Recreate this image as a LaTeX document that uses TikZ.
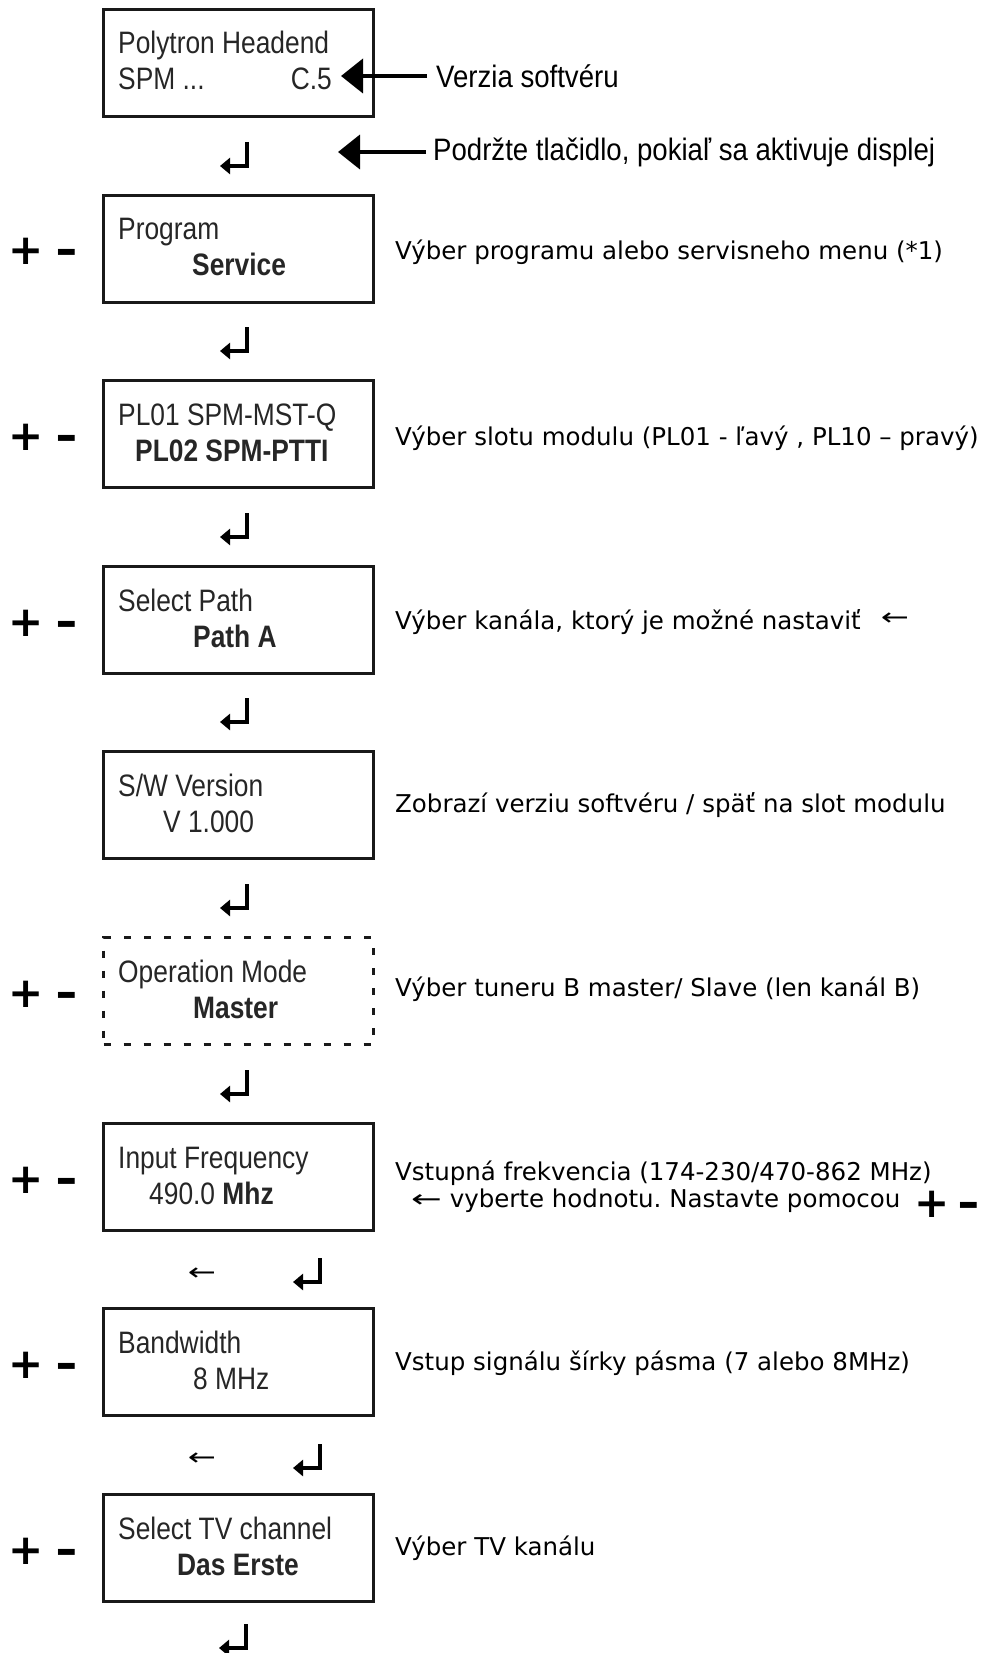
\documentclass[tikz,border=0pt]{standalone}
\usepackage{fontspec}
\setmainfont{DejaVu Sans}
\newfontfamily\lcd[FakeStretch=0.85]{Liberation Sans}
\newfontfamily\lcdanno[FakeStretch=0.89]{Liberation Sans}
\usetikzlibrary{arrows.meta}
\newcommand{\plusminus}[1][12pt]{+\hspace{#1}\scalebox{1.3}[1]{-}}
\frenchspacing
\tikzset{
  lcdbox/.style={draw=black!90, line width=3pt, minimum width=270pt, minimum height=107pt, inner sep=0pt, anchor=north west},
  dashbox/.style={lcdbox, dash pattern=on 7pt off 13pt},
  lcdtxt/.style={font=\lcd\fontsize{31}{36}\selectfont, text=black!85, inner sep=0pt, anchor=base west},
  lcdbold/.style={lcdtxt, font=\lcd\bfseries\fontsize{31}{36}\selectfont},
  desc/.style={font=\fontsize{24.5}{29}\selectfont, inner sep=0pt, anchor=west},
  pm/.style={font=\bfseries\fontsize{42}{48}\selectfont, inner sep=0pt, anchor=base west},
  anno/.style={font=\lcdanno\fontsize{31}{36}\selectfont, inner sep=0pt, anchor=west},
  bigarrow/.style={line width=4pt, -{Triangle[length=22pt,width=34pt]}},
  thinarr/.style={font=\fontsize{24}{29}\selectfont, inner sep=0pt, anchor=center},
  enterkey/.pic={\draw[line width=3.3pt, line join=miter, -{Triangle[length=10pt,width=16pt]}] (0,-24) -- (0,0) -- (-27,0);}
}
\begin{document}
\begin{tikzpicture}[x=1pt,y=-1pt]
\useasboundingbox (0,0) rectangle (983,1653);
% boxes
\node[lcdbox] (b1) at (102,8) {};
\node[lcdbox] (b2) at (102,194) {};
\node[lcdbox] (b3) at (102,379) {};
\node[lcdbox] (b4) at (102,565) {};
\node[lcdbox] (b5) at (102,750) {};
\node[dashbox] (b6) at (102,936) {};
\node[lcdbox] (b7) at (102,1122) {};
\node[lcdbox] (b8) at (102,1307) {};
\node[lcdbox] (b9) at (102,1493) {};
% box texts
\node[lcdtxt] (t1a) at (118,54) {Polytron Headend};
\node[lcdtxt] (t1b) at (118,90) {SPM ...};
\node[lcdtxt, anchor=base east] (t1c) at (332,90) {C.5};
\node[lcdtxt] (t2a) at (118,240) {Program};
\node[lcdbold] (t2b) at (192,276) {Service};
\node[lcdtxt] (t3a) at (118,425) {PL01 SPM-MST-Q};
\node[lcdbold] (t3b) at (135,461) {PL02 SPM-PTTI};
\node[lcdtxt] (t4a) at (118,611) {Select Path};
\node[lcdbold] (t4b) at (193,647) {Path A};
\node[lcdtxt] (t5a) at (118,796) {S/W Version};
\node[lcdtxt] (t5b) at (163,832) {V 1.000};
\node[lcdtxt] (t6a) at (118,982) {Operation Mode};
\node[lcdbold] (t6b) at (193,1018) {Master};
\node[lcdtxt] (t7a) at (118,1168) {Input Frequency};
\node[lcdtxt] (t7b) at (149,1204) {490.0 {\bfseries Mhz}};
\node[lcdtxt] (t8a) at (118,1353) {Bandwidth};
\node[lcdtxt] (t8b) at (193,1389) {8 MHz};
\node[lcdtxt] (t9a) at (118,1539) {Select TV channel};
\node[lcdbold] (t9b) at (177,1575) {Das Erste};
% plus minus
\node[pm] (pm2) at (8,265) {\plusminus};
\node[pm] (pm3) at (8,450) {\plusminus};
\node[pm] (pm4) at (8,636) {\plusminus};
\node[pm] (pm6) at (8,1007) {\plusminus};
\node[pm] (pm7) at (8,1193) {\plusminus};
\node[pm] (pm8) at (8,1378) {\plusminus};
\node[pm] (pm9) at (8,1564) {\plusminus};
% top annotations
\node[anno] (verz) at (436,76) {Verzia softvéru};
\node[anno] (podr) at (433,152) {Podržte tlačidlo, pokiaľ sa aktivuje displej};
\coordinate (tip1) at (341,76);
\coordinate (tip2) at (338,152);
\draw[bigarrow, shorten <=9pt] (verz.west |- tip1) -- (tip1);
\draw[bigarrow, shorten <=7pt] (podr.west |- tip2) -- (tip2);
% descriptions
\node[desc] (d2) at (395,252) {Výber programu alebo servisneho menu (*1)};
\node[desc] (d3) at (395,438) {Výber slotu modulu (PL01 - ľavý , PL10 – pravý)};
\node[desc] (d4) at (395,622) {Výber kanála, ktorý je možné nastaviť};
\node[thinarr] (d4a) at (895,619) {\scalebox{1.4}[1]{←}};
\node[desc] (d5) at (395,805) {Zobrazí verziu softvéru / späť na slot modulu};
\node[desc] (d6) at (395,989) {Výber tuneru B master/ Slave (len kanál B)};
\node[desc, anchor=base west] (d7a) at (395,1180) {Vstupná frekvencia (174-230/470-862 MHz)};
\node[desc, anchor=base west] (d7b) at (411,1207) {\scalebox{1.5}[1]{←} vyberte hodnotu. Nastavte pomocou};
\node[pm] (pm7b) at (914,1217) {\plusminus[8pt]};
\node[desc] (d8) at (395,1363) {Vstup signálu šírky pásma (7 alebo 8MHz)};
\node[desc] (d9) at (395,1548) {Výber TV kanálu};
% enter keys
\pic (e1) at (247,166) {enterkey};
\pic (e2) at (247,351) {enterkey};
\pic (e3) at (247,537) {enterkey};
\pic (e4) at (247,722) {enterkey};
\pic (e5) at (247,908) {enterkey};
\pic (e6) at (247,1094) {enterkey};
\pic (e7) at (320,1282) {enterkey};
\pic (e8) at (320,1468) {enterkey};
\pic (e9) at (246,1648) {enterkey};
\node[thinarr] (la1) at (202,1274) {\scalebox{1.4}[1]{←}};
\node[thinarr] (la2) at (202,1459) {\scalebox{1.4}[1]{←}};
\end{tikzpicture}
\end{document}
